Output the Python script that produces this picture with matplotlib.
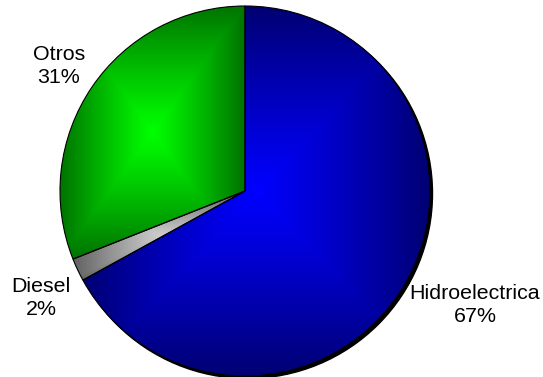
import numpy as np
import matplotlib.pyplot as plt
from matplotlib.patches import Circle

# datos de generación
fuentes = ['Hidroelectrica', 'Diesel', 'Otros']
porcentajes = [67, 2, 31]

# colores: claro en el centro, oscuro en los bordes
claros = [(0.0, 0.0, 1.0), (0.80, 0.80, 0.80), (0.0, 1.0, 0.0)]
oscuros = [(0.0, 0.0, 0.45), (0.38, 0.38, 0.38), (0.0, 0.45, 0.0)]

# posición de las etiquetas (en píxeles)
pos_etiquetas = [(475, 72), (41, 79), (59, 311)]

W, H = 543, 377
centro = (245, 186)
radio = 185

plt.rcParams['font.family'] = ['Liberation Sans', 'DejaVu Sans']

fig = plt.figure(figsize=(W / 100, H / 100), dpi=100)
ax = fig.add_axes([0, 0, 1, 1])

# sombra
sombra = Circle((centro[0] + 2.5, centro[1] - 2.5), radio, color='black', zorder=0)
ax.add_patch(sombra)

wedges, _ = ax.pie(porcentajes, startangle=90, counterclock=False,
                   center=centro, radius=radio,
                   wedgeprops=dict(edgecolor='black', linewidth=0.8))

for w, c1, c2 in zip(wedges, claros, oscuros):
    w.set_facecolor('none')
    w.set_zorder(3)
    bb = w.get_path().get_extents(w.get_patch_transform())
    nx, ny = 200, 200
    u = np.linspace(-1, 1, nx)
    v = np.linspace(-1, 1, ny)
    U, V = np.meshgrid(u, v)
    t = np.maximum(np.abs(U), np.abs(V)) ** 1.1
    img = np.zeros((ny, nx, 3))
    for k in range(3):
        img[..., k] = c1[k] * (1 - t) + c2[k] * t
    im = ax.imshow(img, extent=[bb.x0, bb.x1, bb.y0, bb.y1], origin='lower',
                   zorder=2, interpolation='bilinear')
    im.set_clip_path(w)

for nombre, val, (x, y) in zip(fuentes, porcentajes, pos_etiquetas):
    ax.text(x, y, f'{nombre}\n{val}%', ha='center', va='center',
            fontsize=15.4, linespacing=1.25, color='black')

ax.set_xlim(0, W)
ax.set_ylim(0, H)
ax.set_aspect('auto')
ax.axis('off')

fig.savefig('out.png', dpi=100)
